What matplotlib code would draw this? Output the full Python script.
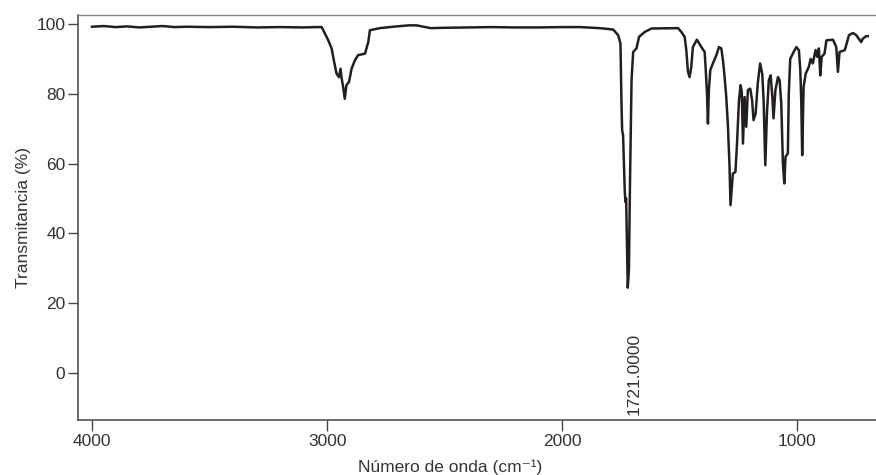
import matplotlib.pyplot as plt
import numpy as np

plt.rcParams['font.family'] = ['Liberation Sans', 'DejaVu Sans']

# IR spectrum (wavenumber cm-1, transmittance %)
wavenumber = [4000, 3950, 3900, 3850, 3800, 3750, 3700, 3650, 3600, 3500, 3400, 3300,
              3200, 3100, 3050, 3023, 3009, 2995, 2981, 2970, 2960, 2950, 2943, 2939,
              2932, 2925, 2918, 2907, 2896, 2882, 2868, 2839, 2825, 2818, 2776, 2705,
              2650, 2620, 2560, 2500, 2400, 2300, 2200, 2100, 2000, 1925, 1840, 1783,
              1762, 1752, 1748, 1745, 1741, 1734, 1731, 1728, 1721, 1716, 1712, 1705,
              1698, 1684, 1673, 1649, 1620, 1507, 1493, 1479, 1472, 1465, 1458, 1451,
              1444, 1427, 1408, 1394, 1390, 1384, 1380, 1376, 1370, 1359, 1344, 1333,
              1323, 1316, 1309, 1302, 1295, 1288, 1284, 1278, 1274, 1263, 1257, 1248,
              1241, 1236, 1231, 1224, 1217, 1210, 1200, 1192, 1186, 1177, 1168, 1158,
              1149, 1143, 1136, 1129, 1121, 1113, 1106, 1101, 1093, 1082, 1075, 1068,
              1061, 1055, 1050, 1040, 1036, 1030, 1019, 1004, 993, 987, 983, 979,
              973, 964, 951, 943, 934, 922, 915, 908, 902, 896, 884, 876,
              848, 834, 827, 820, 798, 788, 780, 763, 749, 728, 721, 707, 700]
transmittance = [99.1, 99.3, 99.0, 99.2, 98.9, 99.1, 99.3, 99.0, 99.1, 99.0, 99.1, 98.9,
                 99.0, 98.9, 99.0, 99.0, 97.1, 95.2, 92.9, 89.0, 85.7, 84.7, 87.1, 84.7,
                 81.9, 78.5, 82.4, 83.3, 87.1, 89.5, 91.0, 91.4, 94.7, 98.1, 98.7, 99.2,
                 99.5, 99.5, 98.7, 98.8, 98.9, 99.0, 98.9, 98.9, 99.0, 99.0, 98.7, 98.3,
                 96.7, 94.3, 78.0, 69.5, 68.1, 52.4, 49.0, 50.0, 24.5, 30.0, 52.4, 83.8,
                 91.9, 92.9, 96.2, 97.6, 98.6, 98.7, 97.6, 96.2, 92.4, 86.2, 84.7, 87.6,
                 93.3, 95.4, 93.3, 91.9, 87.6, 80.0, 71.4, 81.0, 86.7, 88.6, 91.0, 93.3,
                 92.9, 89.5, 84.7, 79.0, 70.9, 59.0, 48.1, 53.3, 57.1, 57.6, 64.7, 78.0,
                 82.4, 80.5, 65.7, 79.0, 70.5, 81.0, 81.4, 78.0, 72.4, 74.3, 82.9, 88.6,
                 85.7, 78.0, 59.5, 74.3, 83.8, 85.2, 79.0, 72.9, 81.0, 84.7, 83.8, 77.1,
                 60.0, 54.3, 61.9, 62.9, 80.0, 89.9, 91.4, 93.3, 92.4, 86.7, 78.0, 62.4,
                 81.9, 85.7, 87.6, 89.9, 88.6, 92.4, 90.5, 92.9, 85.2, 90.5, 91.4, 95.2,
                 95.4, 93.3, 86.2, 91.9, 92.4, 94.7, 96.7, 97.3, 96.7, 94.7, 95.7, 96.4, 96.4]

peak_label = '1721.0000'
peak_label_x = 1696

yticks = [0, 20, 40, 60, 80, 100]
xticks = [4000, 3000, 2000, 1000]

fig = plt.figure(figsize=(8.76, 4.75), dpi=100)
ax = fig.add_axes([0.089, 0.116, 0.911, 0.852])

ax.plot(wavenumber, transmittance, color='#231f20', linewidth=1.8)

ax.set_xlim(4060, 665)
ax.set_ylim(-13.3, 102.4)
ax.set_xticks(xticks)
ax.set_yticks(yticks)

text_c = '#333333'
ax.tick_params(axis='both', direction='out', length=7, width=1, color='#444444',
               labelcolor=text_c, labelsize=12.5, pad=2)
ax.tick_params(axis='x', length=8)

ax.spines['right'].set_visible(False)
ax.spines['top'].set_color('#888888')
ax.spines['top'].set_linewidth(1.0)
for s in ['left', 'bottom']:
    ax.spines[s].set_color('#444444')
    ax.spines[s].set_linewidth(1.1)

ax.set_ylabel('Transmitancia (%)', fontsize=12.5, color=text_c)
ax.set_xlabel('Número de onda (cm\u207b\u00b9)', fontsize=12.5, color=text_c)
ax.xaxis.set_label_coords(0.466, -0.097)

ax.text(peak_label_x, -11.9, peak_label, rotation=90, ha='center', va='bottom',
        fontsize=12.5, color=text_c)

fig.savefig('out.png', dpi=100)
